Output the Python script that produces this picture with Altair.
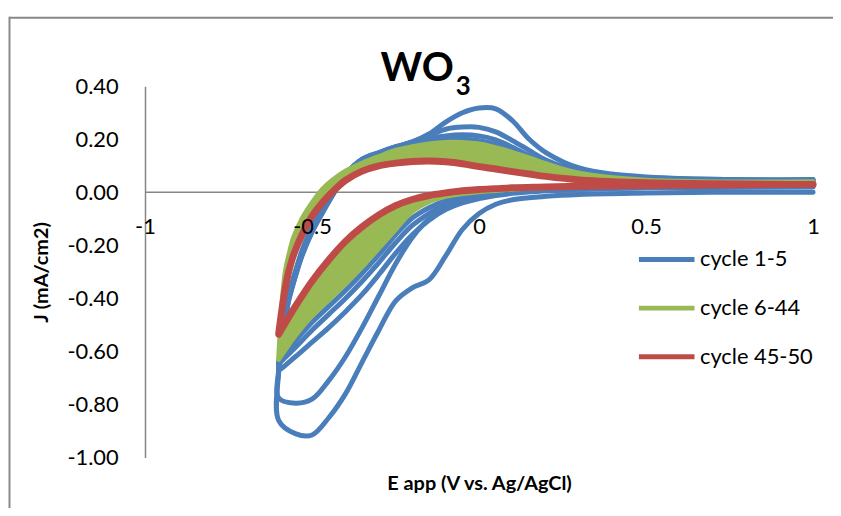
import altair as alt
import pandas as pd

# ---------------- data ----------------
SERIES = ["cycle 1-5", "cycle 6-44", "cycle 45-50"]
COLORS = ["#4A7EBB", "#98B954", "#BE4B48"]

X_TICKS = [-1, -0.5, 0, 0.5, 1]
Y_TICKS = [-1.0, -0.8, -0.6, -0.4, -0.2, 0.0, 0.2, 0.4]

# potential grid of the cathodic (reverse) and anodic (forward) scans, V
E_CATHODIC = [1.00, 0.70, 0.50, 0.30, 0.20, 0.10, 0.05, 0.00, -0.05, -0.10,
              -0.15, -0.20, -0.25, -0.30, -0.35, -0.40, -0.45, -0.50, -0.55, -0.60]
E_ANODIC = [-0.60, -0.59, -0.58, -0.57, -0.555, -0.53, -0.50, -0.47, -0.44, -0.40,
            -0.35, -0.30, -0.25, -0.20, -0.15, -0.10, -0.05, 0.00, 0.05, 0.10,
            0.15, 0.20, 0.30, 0.50, 1.00]

# cycles 1-5 (blue)
C1_C = [0.0, 0.0, -0.003, -0.008, -0.015, -0.028, -0.045, -0.08, -0.14, -0.24,
        -0.33, -0.36, -0.41, -0.52, -0.64, -0.76, -0.85, -0.915, -0.91, -0.86]
C1_A = [-0.68, -0.56, -0.48, -0.41, -0.34, -0.24, -0.15, -0.08, -0.015, 0.065,
        0.125, 0.15, 0.172, 0.19, 0.22, 0.265, 0.30, 0.318, 0.315, 0.27,
        0.20, 0.15, 0.092, 0.058, 0.048]
C2_C = [0.02, 0.018, 0.016, 0.012, 0.008, 0.0, -0.008, -0.018, -0.035, -0.06,
        -0.10, -0.17, -0.27, -0.39, -0.51, -0.62, -0.71, -0.78, -0.795, -0.775]
C2_A = [-0.67, -0.555, -0.475, -0.405, -0.335, -0.235, -0.145, -0.078, -0.012, 0.066,
        0.124, 0.149, 0.171, 0.19, 0.215, 0.238, 0.246, 0.245, 0.228, 0.195,
        0.158, 0.122, 0.08, 0.056, 0.046]
C3_C = [0.024, 0.021, 0.018, 0.012, 0.006, -0.004, -0.012, -0.024, -0.04, -0.065,
        -0.105, -0.16, -0.23, -0.31, -0.385, -0.45, -0.51, -0.565, -0.62, -0.67]
C3_A = [-0.665, -0.55, -0.47, -0.40, -0.33, -0.23, -0.14, -0.075, -0.01, 0.067,
        0.123, 0.148, 0.17, 0.188, 0.203, 0.213, 0.217, 0.213, 0.198, 0.17,
        0.138, 0.108, 0.073, 0.052, 0.045]
C4_C = [0.026, 0.024, 0.022, 0.016, 0.01, 0.002, -0.004, -0.013, -0.025, -0.045,
        -0.08, -0.125, -0.19, -0.265, -0.335, -0.40, -0.46, -0.52, -0.585, -0.65]
C4_A = [-0.655, -0.545, -0.465, -0.395, -0.325, -0.225, -0.135, -0.072, -0.008, 0.068,
        0.122, 0.147, 0.169, 0.187, 0.195, 0.2, 0.2, 0.195, 0.18, 0.157,
        0.13, 0.10, 0.068, 0.05, 0.044]
C5_C = [0.028, 0.026, 0.024, 0.018, 0.013, 0.005, 0.0, -0.007, -0.016, -0.031,
        -0.058, -0.097, -0.16, -0.235, -0.305, -0.37, -0.43, -0.49, -0.56, -0.64]
C5_A = [-0.645, -0.54, -0.46, -0.39, -0.32, -0.22, -0.13, -0.07, -0.005, 0.07,
        0.121, 0.146, 0.168, 0.186, 0.19, 0.195, 0.194, 0.188, 0.172, 0.152,
        0.128, 0.10, 0.066, 0.048, 0.043]

# cycle 6 (outer edge of the green band)
G6_C = [0.034, 0.03, 0.027, 0.022, 0.018, 0.012, 0.007, 0.002, -0.005, -0.015,
        -0.035, -0.072, -0.14, -0.21, -0.28, -0.345, -0.405, -0.465, -0.54, -0.63]
G6_A = [-0.63, -0.42, -0.30, -0.24, -0.17, -0.10, -0.04, 0.01, 0.045, 0.08,
        0.11, 0.135, 0.158, 0.172, 0.182, 0.188, 0.188, 0.182, 0.168, 0.15,
        0.13, 0.108, 0.072, 0.046, 0.04]

# cycles 45-50 (red)
RED_C = [0.03, 0.028, 0.026, 0.023, 0.02, 0.017, 0.014, 0.011, 0.006, -0.002,
         -0.012, -0.027, -0.05, -0.085, -0.13, -0.185, -0.255, -0.335, -0.43, -0.535]
RED_A = [-0.535, -0.44, -0.36, -0.30, -0.235, -0.16, -0.09, -0.04, 0.0, 0.045,
         0.08, 0.10, 0.11, 0.116, 0.118, 0.115, 0.108, 0.097, 0.088, 0.078,
         0.069, 0.06, 0.047, 0.036, 0.03]

TITLE_MAIN = "WO"
TITLE_SUB = "3"
X_TITLE = "E app (V vs. Ag/AgCl)"
Y_TITLE = "J (mA/cm2)"

FONT = "Lato"


def loop_rows(series, loop_id, cathodic, anodic):
    rows = []
    k = 0
    for e, j in zip(E_CATHODIC, cathodic):
        rows.append({"series": series, "loop": loop_id, "i": k, "E": e, "J": j})
        k += 1
    for e, j in zip(E_ANODIC, anodic):
        rows.append({"series": series, "loop": loop_id, "i": k, "E": e, "J": j})
        k += 1
    return rows


blue_rows = []
for n, (c, a) in enumerate([(C1_C, C1_A), (C2_C, C2_A), (C3_C, C3_A), (C4_C, C4_A), (C5_C, C5_A)]):
    blue_rows += loop_rows(SERIES[0], "b%d" % n, c, a)
blue_df = pd.DataFrame(blue_rows)
green_df = pd.DataFrame(loop_rows(SERIES[1], "g6", G6_C, G6_A))
red_df = pd.DataFrame(loop_rows(SERIES[2], "r", RED_C, RED_A))

band_rows = []
for e, j1, j2 in zip(E_ANODIC, RED_A, G6_A):
    band_rows.append({"branch": "anodic", "E": e, "J": j1, "J2": j2})
for e, j1, j2 in zip(E_CATHODIC, RED_C, G6_C):
    band_rows.append({"branch": "cathodic", "E": e, "J": j1, "J2": j2})
band_df = pd.DataFrame(band_rows)

# ---------------- encodings ----------------
W, H = 673, 374
x_scale = alt.Scale(domain=[-1, 1], nice=False, zero=False)
y_scale = alt.Scale(domain=[-1.0, 0.4], nice=False, zero=False)

x_axis = alt.Axis(values=X_TICKS, labelExpr="'' + datum.value", offset=-(H * 1.0 / 1.4),
                  ticks=False, grid=False, domain=False, zindex=1,
                  labelFont=FONT, labelFontSize=22, labelColor="black", labelPadding=24,
                  labelFlush=False, labelOverlap=False,
                  title=X_TITLE, titleFont=FONT, titleFontSize=20, titleFontWeight="bold",
                  titleColor="black", titleY=299, titleBaseline="alphabetic")
y_axis = alt.Axis(values=Y_TICKS, labelExpr="replace(format(datum.value, '.2f'), '\u2212', '-')",
                  ticks=False, grid=False, domainColor="#868686", domainWidth=1.5,
                  labelFont=FONT, labelFontSize=22, labelColor="black", labelPadding=27,
                  labelOverlap=False,
                  title=Y_TITLE, titleFont=FONT, titleFontSize=20, titleFontWeight="bold",
                  titleColor="black", titleX=-104, titleY=H / 2, titleBaseline="middle")

X_ENC = alt.X("E:Q", scale=x_scale, axis=x_axis)
Y_ENC = alt.Y("J:Q", scale=y_scale, axis=y_axis)

legend = alt.Legend(orient="none", legendX=495, legendY=144, title=None, padding=0,
                    symbolType="stroke", symbolSize=3136, symbolStrokeWidth=5,
                    labelFont=FONT, labelFontSize=22, labelColor="black", labelOffset=3,
                    rowPadding=7)
COLOR_ENC = alt.Color("series:N", scale=alt.Scale(domain=SERIES, range=COLORS), legend=legend)


def loops(df, width):
    return alt.Chart(df).mark_line(interpolate="catmull-rom", strokeWidth=width,
                                   strokeCap="round", strokeJoin="round").encode(
        x=X_ENC, y=Y_ENC, color=COLOR_ENC, detail="loop:N", order="i:Q")


zero_line = alt.Chart(pd.DataFrame({"z": [0.0]})).mark_rule(color="#868686", strokeWidth=1.5).encode(
    y=alt.Y("z:Q", scale=y_scale, axis=y_axis))
blue = loops(blue_df, 5)
band = alt.Chart(band_df).mark_area(interpolate="monotone", color=COLORS[1]).encode(
    x=X_ENC, y=Y_ENC, y2="J2:Q", detail="branch:N")
green = loops(green_df, 5)
red = loops(red_df, 7)

one = pd.DataFrame({"k": [0]})
frame_top = alt.Chart(one).mark_rule(color="#898989", strokeWidth=2).encode(
    x=alt.value(-137), x2=alt.value(700), y=alt.value(-69))
frame_left = alt.Chart(one).mark_rule(color="#898989", strokeWidth=2).encode(
    x=alt.value(-136.5), y=alt.value(-70), y2=alt.value(440))
title_main = alt.Chart(pd.DataFrame({"t": [TITLE_MAIN]})).mark_text(
    font=FONT, fontSize=40, fontWeight="bold", align="right", baseline="alphabetic", color="black"
).encode(text="t:N", x=alt.value(311), y=alt.value(-5))
title_sub = alt.Chart(pd.DataFrame({"t": [TITLE_SUB]})).mark_text(
    font=FONT, fontSize=26, fontWeight="bold", align="left", baseline="alphabetic", color="black"
).encode(text="t:N", x=alt.value(313), y=alt.value(9))

chart = alt.layer(frame_top, frame_left, zero_line, blue, band, green, red, title_main, title_sub).properties(
    width=W, height=H,
    autosize=alt.AutoSizeParams(type="none"),
    padding={"left": 138, "top": 77, "right": 20, "bottom": 49},
    background="white",
).configure_view(strokeWidth=0)

chart.save("out.html", embed_options={"renderer": "svg", "actions": False})
